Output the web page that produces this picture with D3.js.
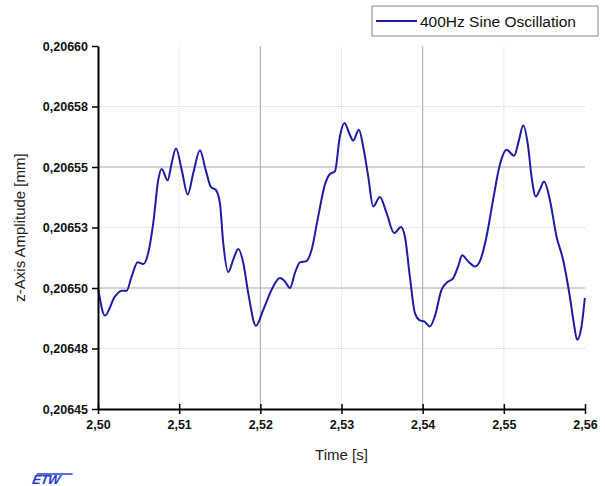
<!DOCTYPE html>
<html>
<head>
<meta charset="utf-8">
<script src="https://cdn.jsdelivr.net/npm/d3@7"></script>
<style>
  body { margin: 0; background: #fff; }
  svg { display: block; font-family: "Liberation Sans", Arial, sans-serif; }
</style>
</head>
<body>
<svg id="chart" width="605" height="486"></svg>
<script>
// time [s] and z-axis amplitude [mm]
var time = [2.50004, 2.50086, 2.50209, 2.50292, 2.50353, 2.50415, 2.50489, 2.50558, 2.50619, 2.50681,
  2.50743, 2.50784, 2.50858, 2.50908, 2.50961, 2.51031, 2.51105, 2.51174, 2.51256, 2.51326,
  2.51392, 2.51450, 2.51502, 2.51543, 2.51605, 2.51666, 2.51728, 2.51790, 2.51851, 2.51946,
  2.52036, 2.52139, 2.52241, 2.52303, 2.52365, 2.52426, 2.52488, 2.52562, 2.52632, 2.52713,
  2.52796, 2.52857, 2.52919, 2.52980, 2.53036, 2.53103, 2.53144, 2.53214, 2.53267, 2.53329,
  2.53390, 2.53473, 2.53555, 2.53649, 2.53732, 2.53781, 2.53842, 2.53904, 2.53966, 2.54019,
  2.54089, 2.54150, 2.54233, 2.54294, 2.54376, 2.54437, 2.54487, 2.54560, 2.54643, 2.54704,
  2.54787, 2.54868, 2.54951, 2.55033, 2.55127, 2.55188, 2.55238, 2.55299, 2.55341, 2.55394,
  2.55443, 2.55496, 2.55567, 2.55649, 2.55730, 2.55813, 2.55862, 2.55903, 2.55957, 2.55998];

var amplitude = [0.2064993, 0.2064886, 0.2064965, 0.2064989, 0.2064989, 0.2065048, 0.2065106, 0.2065099, 0.2065145, 0.2065269,
  0.2065448, 0.2065492, 0.2065445, 0.2065517, 0.2065576, 0.2065489, 0.2065386, 0.2065475, 0.2065569, 0.2065489,
  0.2065417, 0.2065406, 0.2065351, 0.2065186, 0.2065066, 0.2065117, 0.2065161, 0.2065103, 0.2064979, 0.2064844,
  0.2064910, 0.2064993, 0.2065041, 0.2065027, 0.2065000, 0.2065062, 0.2065106, 0.2065110, 0.2065158, 0.2065296,
  0.2065427, 0.2065471, 0.2065482, 0.2065626, 0.2065682, 0.2065633, 0.2065609, 0.2065654, 0.2065585, 0.2065461,
  0.2065337, 0.2065376, 0.2065310, 0.2065227, 0.2065252, 0.2065213, 0.2065048, 0.2064897, 0.2064866, 0.2064862,
  0.2064841, 0.2064883, 0.2064993, 0.2065021, 0.2065041, 0.2065089, 0.2065135, 0.2065110, 0.2065089, 0.2065110,
  0.2065213, 0.2065365, 0.2065509, 0.2065571, 0.2065547, 0.2065613, 0.2065671, 0.2065585, 0.2065461, 0.2065378,
  0.2065406, 0.2065440, 0.2065365, 0.2065213, 0.2065117, 0.2064965, 0.2064855, 0.2064786, 0.2064841, 0.2064959];

var xTicks = [2.50, 2.51, 2.52, 2.53, 2.54, 2.55, 2.56];
var xTickLabels = ["2,50", "2,51", "2,52", "2,53", "2,54", "2,55", "2,56"];
var yTicks = [0.20645, 0.206475, 0.2065, 0.206525, 0.20655, 0.206575, 0.2066];
var yTickLabels = ["0,20645", "0,20648", "0,20650", "0,20653", "0,20655", "0,20658", "0,20660"];
var xMajorGrid = [2.52, 2.54];
var xMinorGrid = [2.51, 2.53, 2.55];
var yMajorGrid = [0.2065, 0.20655];
var yMinorGrid = [0.206475, 0.206525, 0.206575];
var seriesName = "400Hz Sine Oscillation";

var svg = d3.select("#chart");
var plotL = 98, plotR = 585, plotT = 46, plotB = 409;

var x = d3.scaleLinear().domain([2.50, 2.56]).range([plotL, plotR]);
var y = d3.scaleLinear().domain([0.20645, 0.2066]).range([plotB, plotT]);

// grid lines
svg.selectAll(".xminor").data(xMinorGrid).enter().append("line")
  .attr("x1", x).attr("x2", x).attr("y1", plotT).attr("y2", plotB)
  .attr("stroke", "#d8d8d8").attr("stroke-dasharray", "1,1");
svg.selectAll(".yminor").data(yMinorGrid).enter().append("line")
  .attr("x1", plotL).attr("x2", plotR).attr("y1", y).attr("y2", y)
  .attr("stroke", "#d8d8d8").attr("stroke-dasharray", "1,1");
svg.selectAll(".xmajor").data(xMajorGrid).enter().append("line")
  .attr("x1", x).attr("x2", x).attr("y1", plotT).attr("y2", plotB)
  .attr("stroke", "#a8a8a8").attr("stroke-width", 1);
svg.selectAll(".ymajor").data(yMajorGrid).enter().append("line")
  .attr("x1", plotL).attr("x2", plotR).attr("y1", y).attr("y2", y)
  .attr("stroke", "#a8a8a8").attr("stroke-width", 1);

// the curve
var pts = time.map(function(t, i) { return [t, amplitude[i]]; });
var line = d3.line()
  .x(function(d) { return x(d[0]); })
  .y(function(d) { return y(d[1]); })
  .curve(d3.curveMonotoneX);
svg.append("path").datum(pts)
  .attr("d", line)
  .attr("fill", "none")
  .attr("stroke", "#1c1ca6")
  .attr("stroke-width", 2);

// axes
var xAxis = svg.append("g").attr("transform", "translate(0," + plotB + ")")
  .call(d3.axisBottom(x).tickValues(xTicks)
    .tickFormat(function(d, i) { return xTickLabels[i]; })
    .tickSizeInner(5).tickSizeOuter(0));
xAxis.select(".domain").attr("stroke-width", 2);
xAxis.selectAll(".tick line").attr("y1", -5).attr("stroke-width", 1.5);
xAxis.selectAll(".tick text").attr("y", 9).attr("dy", "0.9em")
  .style("font-size", "12.5px").style("font-weight", "bold").attr("fill", "#111");

var yAxis = svg.append("g").attr("transform", "translate(" + plotL + ",0)")
  .call(d3.axisLeft(y).tickValues(yTicks)
    .tickFormat(function(d, i) { return yTickLabels[i]; })
    .tickSizeInner(6).tickSizeOuter(0));
yAxis.select(".domain").attr("stroke-width", 2);
yAxis.selectAll(".tick line").attr("stroke-width", 1.5);
yAxis.selectAll(".tick text").attr("x", -10)
  .style("font-size", "12.5px").style("font-weight", "bold").attr("fill", "#111");

// axis titles
svg.append("text").attr("x", x(2.53)).attr("y", 460)
  .attr("text-anchor", "middle").style("font-size", "15px").attr("fill", "#222")
  .text("Time [s]");
svg.append("text").attr("transform", "translate(25," + y(0.206525) + ") rotate(-90)")
  .attr("text-anchor", "middle").style("font-size", "15px").attr("fill", "#222")
  .text("z-Axis Amplitude [mm]");

// legend
var lg = svg.append("g").attr("transform", "translate(372,6)");
lg.append("rect").attr("width", 226).attr("height", 30)
  .attr("fill", "#fff").attr("stroke", "#888");
lg.append("line").attr("x1", 4).attr("x2", 45).attr("y1", 15).attr("y2", 15)
  .attr("stroke", "#1c1ca6").attr("stroke-width", 2);
lg.append("text").attr("x", 48).attr("y", 21)
  .style("font-size", "15.5px").attr("fill", "#111").text(seriesName);

// logo
var logo = svg.append("g").attr("transform", "translate(31,484) skewX(-20)");
logo.append("text").attr("x", 0).attr("y", 0)
  .style("font-size", "13px").style("font-weight", "bold").style("letter-spacing", "-0.5px")
  .attr("fill", "#1f3fd0").text("ETW");
logo.append("line").attr("x1", 2).attr("x2", 38).attr("y1", -10).attr("y2", -10)
  .attr("stroke", "#1f3fd0").attr("stroke-width", 1.5);
</script>
</body>
</html>
